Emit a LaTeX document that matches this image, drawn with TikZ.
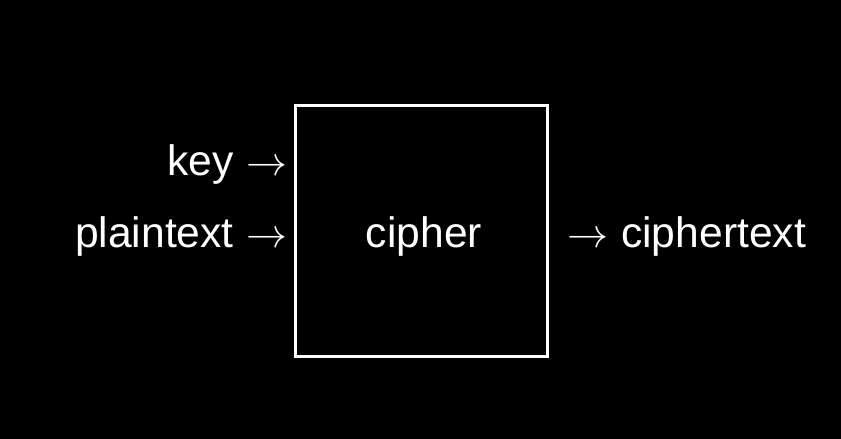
\documentclass[tikz,border=0pt]{standalone}
\usepackage{graphicx}
\usepackage{fontspec}
\setmainfont{Liberation Sans}
\newcommand{\arr}{\resizebox{41pt}{!}{$\rightarrow$}}
\begin{document}
\begin{tikzpicture}[x=1pt,y=-1pt,
  lbl/.style={text=white,font=\fontsize{42.6}{50}\selectfont,inner sep=0pt},
  boxst/.style={draw=white,line width=3pt}]
\fill[black] (0,0) rectangle (841,439);
\useasboundingbox (0,0) rectangle (841,439);
\draw[boxst] (295,105) rectangle (547,356);
\node[lbl,anchor=base] (cipher) at (424,247) {cipher};
\node[lbl,anchor=base east] (key) at (288,175) {key\hspace{13pt}\arr};
\node[lbl,anchor=base east] (plain) at (288,247) {plaintext\hspace{13pt}\arr};
\node[lbl,anchor=base west] (ct) at (567,247) {\arr\hspace{13pt}ciphertext};
\end{tikzpicture}
\end{document}
